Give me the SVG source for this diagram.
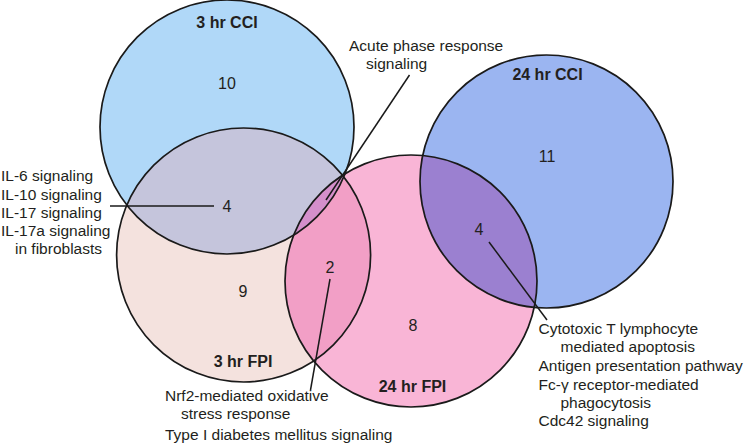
<svg xmlns="http://www.w3.org/2000/svg" width="750" height="445" viewBox="0 0 750 445">
<style>
text{font-family:"Liberation Sans",Arial,sans-serif;font-size:16px;fill:#231f20}
.l{font-size:15.5px}
.t{font-weight:bold;text-anchor:middle}
.n{text-anchor:middle}
.o{fill:none;stroke:#1a1a1a;stroke-width:1.7}
.c{stroke:#1a1a1a;stroke-width:1.5;fill:none}
</style>
<defs>
<clipPath id="k3c"><circle cx="227" cy="127" r="127"/></clipPath>
<clipPath id="k3f"><circle cx="243.6" cy="255" r="127"/></clipPath>
<clipPath id="k24f"><circle cx="411" cy="281" r="126"/></clipPath>
</defs>
<g id="fills">
<circle cx="227" cy="127" r="127" fill="#b0d8f8"/>
<circle cx="243.6" cy="255" r="127" fill="#f4e2de"/>
<circle cx="411" cy="281" r="126" fill="#f9b5d6"/>
<circle cx="546.5" cy="181.5" r="126.5" fill="#9bb5f1"/>
<circle cx="243.6" cy="255" r="127" fill="#c5c5dc" clip-path="url(#k3c)"/>
<circle cx="411" cy="281" r="126" fill="#f29fc6" clip-path="url(#k3f)"/>
<g clip-path="url(#k3f)"><circle cx="411" cy="281" r="126" fill="#d48fcb" clip-path="url(#k3c)"/></g>
<circle cx="546.5" cy="181.5" r="126.5" fill="#9b80d0" clip-path="url(#k24f)"/>
</g>
<g id="n3hrCCI">
<circle class="o" cx="227" cy="127" r="127"/>
<text class="t" x="227" y="28">3 hr CCI</text>
<text class="n" x="227" y="88.5">10</text>
</g>
<g id="n3hrFPI">
<circle class="o" cx="243.6" cy="255" r="127"/>
<text class="t" x="243" y="367">3 hr FPI</text>
<text class="n" x="243" y="296.5">9</text>
</g>
<g id="n24hrFPI">
<circle class="o" cx="411" cy="281" r="126"/>
<text class="t" x="412.5" y="392">24 hr FPI</text>
<text class="n" x="413" y="330.5">8</text>
</g>
<g id="n24hrCCI">
<circle class="o" cx="546.5" cy="181.5" r="126.5"/>
<text class="t" x="547.5" y="80">24 hr CCI</text>
<text class="n" x="547" y="161.5">11</text>
</g>
<g id="overlaps">
<text class="n" x="227" y="211.5">4</text>
<text class="n" x="330" y="272.5">2</text>
<text class="n" x="479" y="235">4</text>
</g>
<g id="connectors">
<line class="c" x1="110" y1="206" x2="214" y2="206"/>
<line class="c" x1="409.5" y1="75" x2="326" y2="200"/>
<line class="c" x1="330" y1="279" x2="310.5" y2="390"/>
<line class="c" x1="489" y1="242" x2="547" y2="320"/>
</g>
<g id="labels">
<text class="l" x="1" y="181">IL-6 signaling</text>
<text class="l" x="1" y="199.5">IL-10 signaling</text>
<text class="l" x="1" y="218">IL-17 signaling</text>
<text class="l" x="1" y="236">IL-17a signaling</text>
<text class="l" x="15" y="254">in fibroblasts</text>
<text class="l" x="349" y="51">Acute phase response</text>
<text class="l" x="366" y="69">signaling</text>
<text class="l" x="538.5" y="334">Cytotoxic T lymphocyte</text>
<text class="l" x="560.5" y="352">mediated apoptosis</text>
<text class="l" x="538.5" y="371">Antigen presentation pathway</text>
<text class="l" x="538.5" y="389.5">Fc-γ receptor-mediated</text>
<text class="l" x="560.5" y="407.5">phagocytosis</text>
<text class="l" x="538.5" y="426">Cdc42 signaling</text>
<text class="l" x="165" y="401">Nrf2-mediated oxidative</text>
<text class="l" x="181" y="419">stress response</text>
<text class="l" x="165" y="439.5">Type I diabetes mellitus signaling</text>
</g>
</svg>
